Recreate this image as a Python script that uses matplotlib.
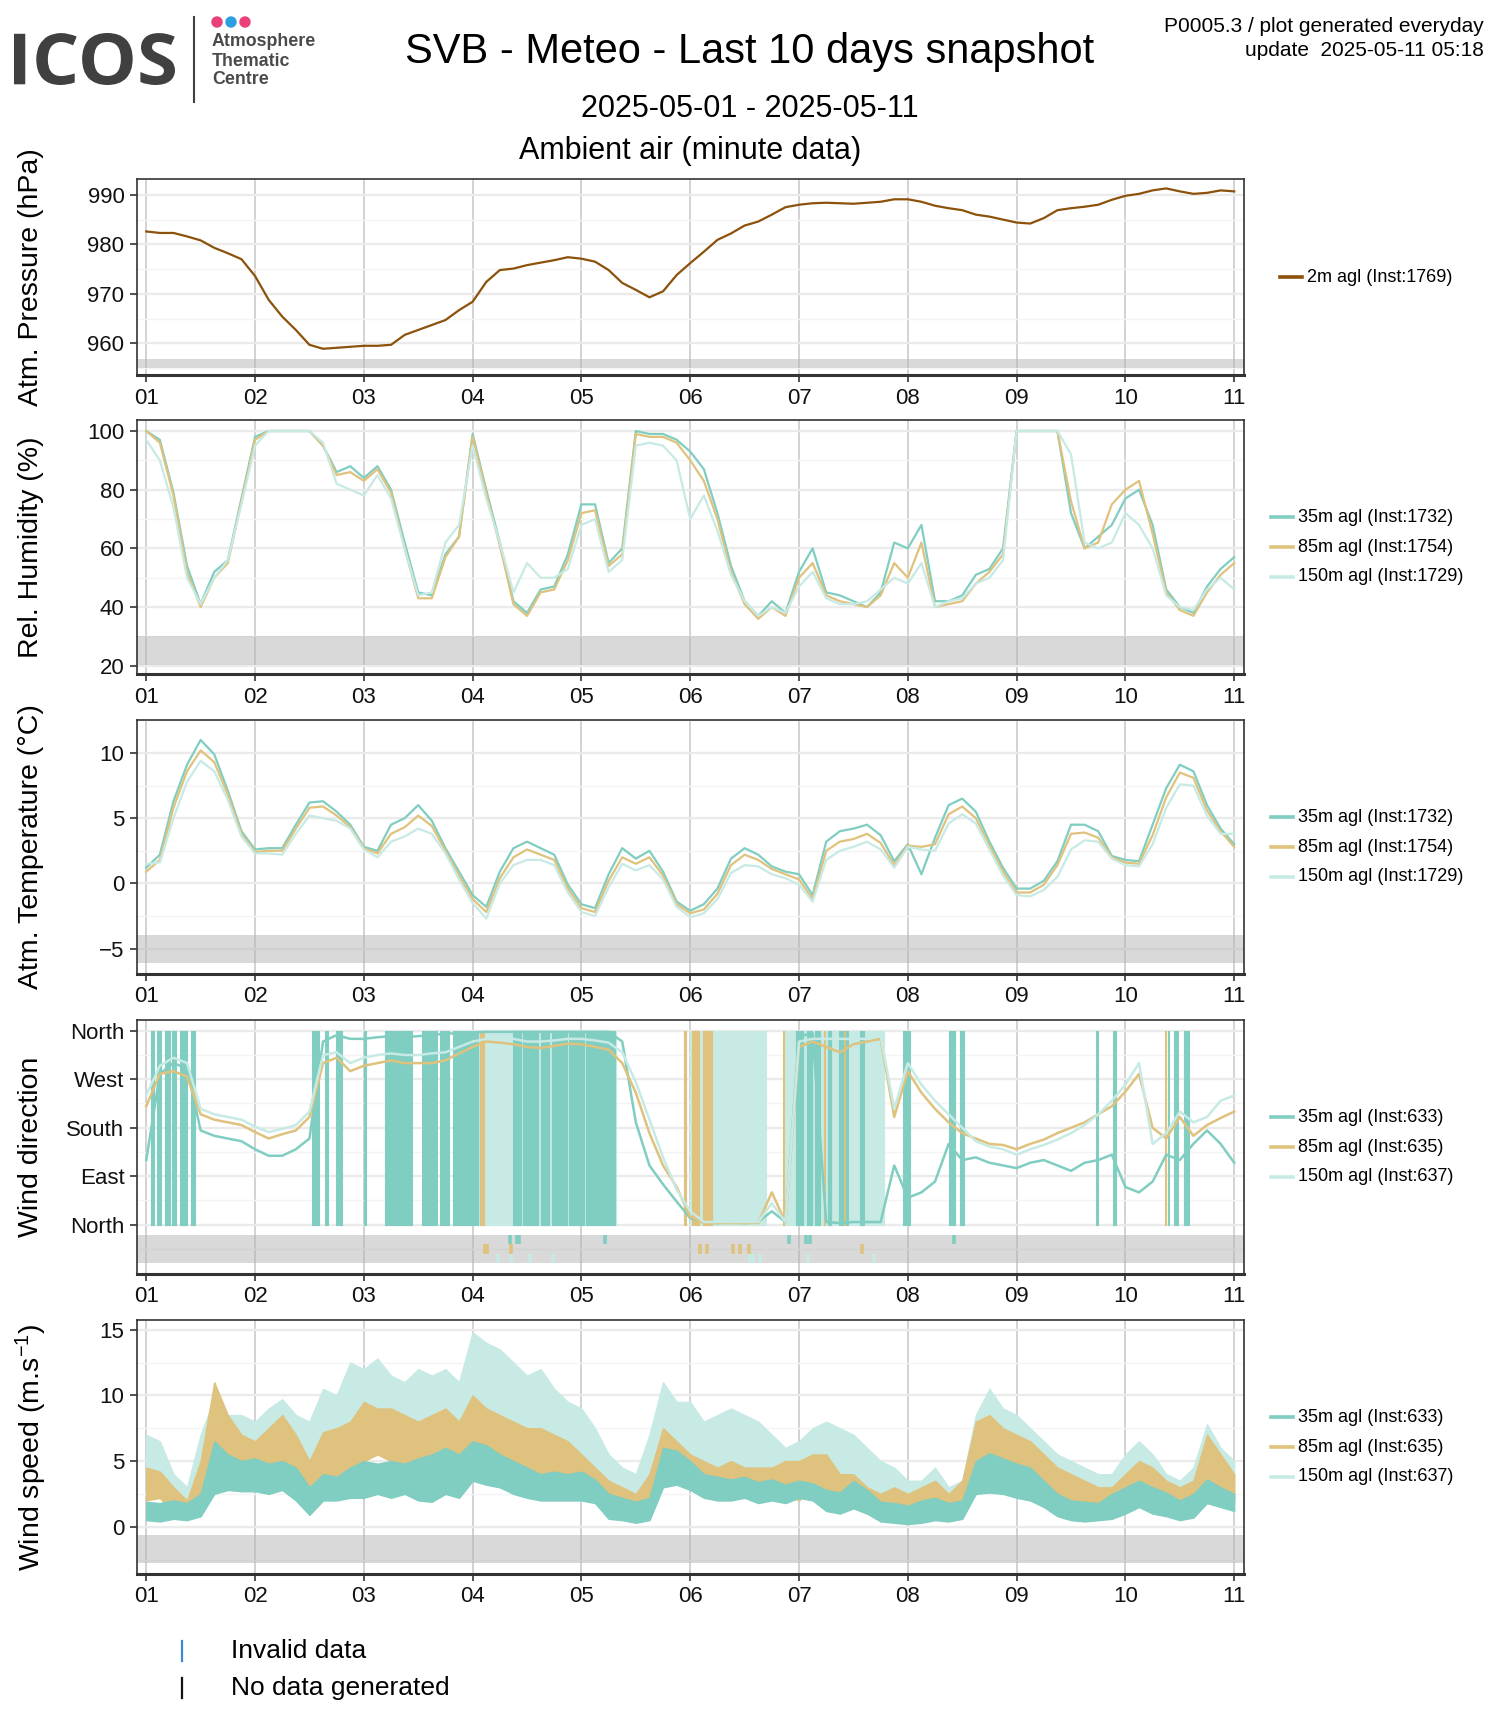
import numpy as np
import matplotlib.pyplot as plt
from matplotlib.lines import Line2D
from matplotlib.patches import Circle, PathPatch
from matplotlib.textpath import TextPath
from matplotlib.font_manager import FontProperties
from matplotlib.transforms import Affine2D

plt.rcParams.update({
    "font.family": ["Liberation Sans", "DejaVu Sans"],
    "mathtext.fontset": "custom",
    "mathtext.rm": "Liberation Sans",
    "mathtext.it": "Liberation Sans",
    "font.size": 16,
})

W, H, DPI = 1500, 1725, 100

# colours
C35, C85, C150 = "#80CDC1", "#DFC27D", "#C7EAE5"
CPRES = "#8C510A"

DAY_LABELS = ["01", "02", "03", "04", "05", "06", "07", "08", "09", "10", "11"]
STEP = 0.125  # 3-hourly samples, days since 2025-05-01

# ---- data (one row = one day, 8 samples) ----
pressure = [
    982.6, 982.3, 982.3, 981.6, 980.8, 979.3, 978.2, 977.0,
    973.6, 968.8, 965.4, 962.7, 959.7, 958.9, 959.1, 959.3,
    959.5, 959.5, 959.7, 961.7, 962.7, 963.7, 964.7, 966.7,
    968.4, 972.4, 974.8, 975.1, 975.8, 976.3, 976.8, 977.4,
    977.1, 976.5, 974.8, 972.2, 970.8, 969.3, 970.5, 973.8,
    976.2, 978.5, 980.9, 982.2, 983.8, 984.6, 986.0, 987.5,
    988.0, 988.3, 988.4, 988.3, 988.2, 988.4, 988.6, 989.1,
    989.1, 988.6, 987.8, 987.3, 986.9, 986.0, 985.6, 985.0,
    984.4, 984.2, 985.3, 986.9, 987.3, 987.6, 988.0, 989.0,
    989.8, 990.2, 990.9, 991.3, 990.7, 990.2, 990.4, 990.9,
    990.7]

rh_35 = [
    100, 97, 79, 54, 41, 52, 56, 77,
    98, 100, 100, 100, 100, 95, 86, 88,
    84, 88, 80, 62, 45, 44, 58, 64,
    99, 80, 62, 42, 38, 46, 47, 58,
    75, 75, 55, 60, 100, 99, 99, 97,
    93, 87, 72, 54, 42, 37, 42, 38,
    52, 60, 45, 44, 42, 40, 45, 62,
    60, 68, 42, 42, 44, 51, 53, 60,
    100, 100, 100, 100, 72, 60, 64, 68,
    77, 80, 68, 46, 40, 38, 47, 53,
    57]
rh_85 = [
    100, 96, 78, 52, 40, 50, 55, 76,
    97, 100, 100, 100, 100, 95, 85, 86,
    83, 87, 79, 60, 43, 43, 57, 64,
    98, 79, 61, 41, 37, 45, 46, 56,
    72, 73, 54, 58, 99, 98, 98, 96,
    90, 83, 70, 52, 41, 36, 40, 37,
    50, 55, 44, 42, 41, 40, 44, 55,
    50, 62, 40, 41, 42, 48, 52, 58,
    100, 100, 100, 100, 76, 60, 62, 75,
    80, 83, 65, 45, 39, 37, 45, 51,
    55]
rh_150 = [
    97, 90, 74, 50, 41, 50, 56, 75,
    95, 100, 100, 100, 100, 96, 82, 80,
    78, 85, 77, 60, 44, 45, 62, 68,
    95, 77, 62, 45, 55, 50, 50, 53,
    68, 70, 52, 56, 95, 96, 95, 90,
    70, 78, 66, 51, 42, 37, 40, 38,
    47, 52, 43, 41, 41, 42, 46, 50,
    48, 55, 40, 42, 43, 48, 50, 56,
    100, 100, 100, 100, 92, 62, 60, 62,
    72, 68, 60, 44, 40, 39, 46, 50,
    46]

temp_35 = [
    1.2, 2.2, 6.3, 9.1, 11.0, 9.9, 7.1, 4.0,
    2.6, 2.7, 2.7, 4.5, 6.2, 6.3, 5.5, 4.5,
    2.8, 2.5, 4.5, 5.0, 6.0, 4.8, 2.7, 0.9,
    -0.9, -1.8, 0.9, 2.7, 3.2, 2.7, 2.2, -0.1,
    -1.6, -1.9, 0.7, 2.7, 1.9, 2.5, 0.9, -1.4,
    -2.1, -1.6, -0.4, 1.9, 2.7, 2.2, 1.3, 0.9,
    0.7, -0.9, 3.2, 4.0, 4.2, 4.5, 3.7, 1.7,
    3.0, 0.7, 3.5, 6.0, 6.5, 5.5, 3.2, 1.2,
    -0.4, -0.4, 0.2, 1.7, 4.5, 4.5, 4.0, 2.1,
    1.8, 1.7, 4.5, 7.3, 9.1, 8.6, 6.0, 4.2,
    3.0]
temp_85 = [
    0.9, 1.8, 5.8, 8.6, 10.2, 9.3, 6.8, 3.8,
    2.4, 2.5, 2.5, 4.2, 5.8, 5.9, 5.2, 4.3,
    2.7, 2.3, 3.8, 4.3, 5.2, 4.4, 2.5, 0.6,
    -1.2, -2.2, 0.4, 2.0, 2.6, 2.2, 1.8, -0.4,
    -1.9, -2.2, 0.2, 2.0, 1.5, 2.0, 0.6, -1.6,
    -2.3, -2.0, -0.8, 1.4, 2.2, 1.8, 1.1, 0.7,
    0.3, -1.2, 2.5, 3.2, 3.4, 3.8, 3.1, 1.4,
    2.9, 2.8, 3.0, 5.3, 5.9, 5.0, 2.9, 0.9,
    -0.7, -0.7, -0.1, 1.4, 3.8, 3.9, 3.5, 2.0,
    1.6, 1.5, 3.7, 6.6, 8.5, 8.1, 5.6, 4.0,
    2.8]
temp_150 = [
    1.5, 1.6, 5.0, 7.8, 9.4, 8.6, 6.4, 3.6,
    2.3, 2.3, 2.2, 3.8, 5.2, 5.0, 4.8, 4.2,
    2.6, 2.0, 3.2, 3.6, 4.2, 3.8, 2.3, 0.3,
    -1.5, -2.7, 0.0, 1.4, 1.8, 1.8, 1.4, -0.7,
    -2.2, -2.5, -0.3, 1.5, 1.0, 1.4, 0.3, -1.8,
    -2.6, -2.3, -1.2, 0.8, 1.4, 1.3, 0.7, 0.4,
    -0.1, -1.4, 1.8, 2.5, 2.8, 3.2, 2.6, 1.2,
    2.8, 2.6, 2.5, 4.6, 5.3, 4.6, 2.6, 0.6,
    -0.9, -1.0, -0.5, 0.5, 2.6, 3.3, 3.2, 1.9,
    1.4, 1.3, 3.0, 5.8, 7.6, 7.5, 5.2, 3.8,
    3.8]

# wind direction (deg), slowly varying part
wd_35 = [
    120, 280, 300, 290, 175, 165, 160, 155,
    140, 128, 128, 140, 160, 340, 352, 345,
    345, 348, 350, 348, 350, 352, 355, 355,
    357, 358, 358, 358, 358, 358, 358, 358,
    358, 358, 358, 340, 190, 110, 75, 43,
    12, 5, 3, 5, 3, 5, 25, 5,
    350, 355, 5, 3, 5, 5, 5, 110,
    50, 60, 80, 150, 120, 125, 115, 110,
    105, 115, 120, 110, 100, 115, 120, 130,
    70, 60, 80, 130, 120, 150, 175, 150,
    115]
wd_85 = [
    220, 280, 285, 275, 205, 195, 190, 185,
    172, 160, 168, 175, 200, 300, 310, 285,
    295, 300, 305, 300, 300, 300, 305, 318,
    330, 340, 338, 335, 330, 328, 332, 336,
    335, 330, 325, 300, 245, 170, 110, 70,
    15, 3, 3, 3, 3, 3, 60, 5,
    330, 340, 330, 320, 335, 340, 345, 200,
    285, 245, 215, 190, 170, 160, 150, 148,
    140, 150, 158, 170, 180, 190, 205, 220,
    247, 280, 180, 160, 200, 165, 185, 198,
    210]
wd_150 = [
    240, 295, 310, 300, 215, 205, 200, 195,
    182, 172, 178, 185, 210, 315, 320, 300,
    310, 315, 318, 315, 315, 318, 320, 330,
    340, 345, 345, 345, 340, 340, 342, 345,
    345, 342, 338, 320, 265, 195, 125, 65,
    25, 5, 5, 5, 5, 5, 40, 5,
    340, 345, 345, 345, 345, 345, 350, 215,
    300, 260, 230, 205, 180, 155, 145, 140,
    130, 140, 148, 158, 170, 185, 205, 230,
    260, 300, 150, 170, 210, 190, 200, 230,
    240]

# spans (days) where the direction flips back and forth across north
wrap_35 = [(0.04, 0.07), (0.10, 0.14), (0.17, 0.22), (0.24, 0.27), (0.31, 0.37), (0.41, 0.45),
           (1.52, 1.59), (1.64, 1.67), (1.74, 1.80), (2.00, 2.02), (2.19, 2.44), (2.53, 2.67),
           (2.70, 2.78), (2.82, 2.85), (2.86, 3.05), (3.37, 3.44), (3.46, 3.60), (3.63, 3.70),
           (3.73, 3.87), (3.89, 4.02), (4.04, 4.31), (5.97, 6.04), (6.07, 6.12), (6.15, 6.19),
           (6.27, 6.29), (6.37, 6.40), (6.43, 6.45), (6.56, 6.60), (6.96, 7.02), (7.38, 7.43),
           (7.48, 7.52), (8.73, 8.75), (8.89, 8.91), (9.39, 9.40), (9.45, 9.48), (9.54, 9.58)]
wrap_85 = [(3.07, 3.10), (4.94, 4.96), (5.02, 5.08), (5.12, 5.20), (5.85, 5.86), (6.23, 6.24),
           (6.28, 6.29), (6.40, 6.43), (9.36, 9.37)]
wrap_150 = [(3.05, 4.32), (5.00, 5.70), (5.86, 6.78)]

# invalid-data flags (days)
flag_35 = [3.34, 3.41, 3.43, 4.22, 5.91, 6.06, 6.10, 7.42]
flag_85 = [3.11, 3.13, 3.35, 5.09, 5.15, 5.39, 5.46, 5.54, 6.58]
flag_150 = [3.23, 3.35, 3.53, 3.74, 5.55, 5.58, 5.64, 6.08, 6.69]

# wind speed (m/s): low / high edge of the minute-data spread
ws35_lo = [
    0.5, 0.4, 0.6, 0.5, 0.8, 2.5, 2.8, 2.7,
    2.7, 2.5, 2.8, 2.0, 0.9, 2.0, 2.0, 2.2,
    2.2, 2.5, 2.2, 2.5, 2.0, 1.9, 2.5, 2.2,
    3.5, 3.2, 3.0, 2.5, 2.2, 2.0, 2.0, 2.0,
    2.0, 1.8, 0.6, 0.5, 0.3, 0.5, 3.0, 3.2,
    2.8, 2.2, 2.0, 2.0, 2.2, 1.8, 2.0, 1.8,
    2.2, 2.0, 1.2, 1.0, 1.4, 1.0, 0.4, 0.3,
    0.2, 0.3, 0.5, 0.4, 0.6, 2.5, 2.6, 2.5,
    2.2, 2.0, 1.5, 0.8, 0.5, 0.4, 0.5, 0.6,
    1.0, 1.5, 1.0, 0.8, 0.5, 0.7, 1.8, 1.5,
    1.2]
ws35_hi = [
    1.9, 1.8, 2.0, 1.8, 2.5, 6.5, 5.5, 5.0,
    5.2, 4.8, 5.0, 4.5, 3.0, 4.0, 3.8, 4.5,
    5.0, 4.8, 5.0, 4.8, 5.2, 5.5, 6.0, 5.5,
    6.5, 6.2, 5.5, 5.0, 4.5, 4.0, 4.2, 4.0,
    4.2, 3.6, 2.5, 2.2, 1.9, 2.2, 6.0, 5.8,
    5.0, 4.0, 3.8, 3.6, 3.8, 3.4, 3.6, 3.2,
    3.5, 3.3, 2.8, 2.6, 3.5, 2.8, 1.9, 1.8,
    1.6, 2.0, 2.2, 1.8, 2.0, 5.0, 5.6, 5.2,
    4.8, 4.5, 3.5, 2.5, 2.0, 1.9, 1.8, 2.5,
    3.0, 3.5, 3.0, 2.6, 2.0, 2.5, 3.6, 3.0,
    2.5]
ws85_lo = [
    2.0, 2.2, 1.0, 0.7, 1.5, 4.0, 4.5, 3.8,
    3.5, 3.8, 4.0, 3.5, 2.0, 4.0, 3.8, 4.5,
    5.0, 5.5, 5.0, 4.5, 4.0, 4.5, 5.0, 4.5,
    6.0, 5.5, 4.8, 4.5, 4.0, 3.5, 3.0, 3.5,
    3.5, 2.8, 1.5, 1.0, 0.6, 1.5, 4.0, 3.5,
    3.0, 2.5, 2.5, 2.5, 2.5, 2.0, 2.5, 2.5,
    2.0, 3.0, 2.5, 1.5, 1.5, 1.0, 0.8, 1.0,
    0.6, 0.8, 1.2, 0.5, 1.5, 4.0, 4.2, 4.0,
    3.5, 3.0, 2.5, 2.0, 1.5, 1.2, 1.0, 1.0,
    1.5, 2.5, 2.0, 1.2, 1.0, 1.5, 3.0, 2.5,
    2.0]
ws85_hi = [
    4.5, 4.2, 3.0, 2.0, 5.0, 11.0, 8.5, 7.0,
    6.5, 7.5, 8.5, 7.0, 5.0, 7.2, 7.5, 8.0,
    9.5, 9.0, 9.0, 8.5, 8.0, 8.5, 9.0, 8.0,
    10.0, 9.0, 8.5, 8.0, 7.5, 7.5, 7.0, 6.5,
    5.5, 4.5, 3.5, 3.0, 2.5, 4.0, 7.5, 6.5,
    5.5, 5.0, 4.5, 5.0, 4.5, 4.5, 4.5, 5.0,
    5.0, 5.5, 5.5, 4.0, 4.0, 3.0, 2.5, 3.0,
    2.5, 3.0, 3.5, 2.5, 3.5, 8.0, 8.5, 7.5,
    7.0, 6.5, 5.5, 4.5, 4.0, 3.5, 3.0, 3.0,
    4.0, 5.0, 4.5, 3.5, 3.0, 3.5, 7.0, 5.5,
    4.0]
ws150_lo = [
    4.0, 3.0, 1.5, 1.0, 3.5, 5.5, 5.0, 4.5,
    4.5, 5.0, 5.5, 4.5, 3.5, 6.5, 6.5, 7.0,
    7.5, 7.5, 7.0, 6.5, 6.5, 6.0, 7.0, 6.5,
    7.5, 8.0, 7.0, 6.5, 6.0, 5.5, 5.5, 5.0,
    5.0, 4.0, 2.0, 1.5, 1.0, 2.5, 5.5, 5.0,
    4.5, 4.0, 3.5, 3.5, 3.5, 3.0, 3.5, 3.0,
    3.0, 3.5, 3.5, 3.0, 2.5, 2.0, 1.5, 1.5,
    1.0, 1.0, 1.5, 0.8, 1.2, 5.0, 5.5, 5.0,
    4.5, 4.0, 3.0, 2.5, 2.0, 1.5, 1.2, 1.5,
    2.0, 3.0, 2.5, 1.5, 1.0, 2.0, 4.0, 3.0,
    2.5]
ws150_hi = [
    7.0, 6.5, 4.0, 3.0, 7.0, 9.8, 8.5, 8.5,
    8.0, 9.0, 9.7, 8.5, 8.0, 10.5, 10.0, 12.5,
    12.0, 12.8, 11.5, 11.0, 12.0, 11.5, 12.0, 11.0,
    14.8, 14.0, 13.5, 12.5, 11.5, 12.0, 10.5, 9.5,
    9.0, 7.5, 5.5, 4.5, 4.0, 7.0, 11.0, 9.5,
    9.5, 8.0, 8.5, 9.0, 8.5, 8.0, 7.0, 6.0,
    6.5, 7.5, 8.0, 7.5, 7.0, 6.0, 5.0, 4.5,
    3.5, 3.5, 4.5, 3.0, 3.5, 8.5, 10.5, 9.0,
    8.5, 7.5, 6.5, 5.5, 5.0, 4.5, 4.0, 4.0,
    5.5, 6.5, 5.5, 4.0, 3.5, 4.5, 7.8, 6.0,
    5.0]

t = np.arange(len(pressure)) * STEP

LABELS_T = ["35m agl (Inst:1732)", "85m agl (Inst:1754)", "150m agl (Inst:1729)"]
LABELS_W = ["35m agl (Inst:633)", "85m agl (Inst:635)", "150m agl (Inst:637)"]


def fx(px):
    return px / W


def fy(py):
    return 1 - py / H


fig = plt.figure(figsize=(W / DPI, H / DPI), dpi=DPI)

LEFT, RIGHT = 137, 1244
PANELS = [(179, 375), (420, 674), (720, 974), (1020, 1274), (1320, 1574)]


def make_ax(top, bottom, ylim, majors, minors, band, yticklabels=None):
    ax = fig.add_axes([fx(LEFT), fy(bottom), (RIGHT - LEFT) / W, (bottom - top) / H])
    ax.set_xlim(-0.085, 10.09)
    ax.set_ylim(*ylim)
    ax.set_axisbelow(True)
    ax.set_xticks(range(11))
    ax.set_xticklabels(DAY_LABELS)
    ax.set_yticks(majors)
    if yticklabels is not None:
        ax.set_yticklabels(yticklabels)
    ax.set_yticks(minors, minor=True)
    ax.grid(axis="x", which="major", color="#C6C6C6", lw=1.1)
    ax.grid(axis="y", which="major", color="#EBEBEB", lw=1.7)
    ax.grid(axis="y", which="minor", color="#F4F4F4", lw=1.0)
    ax.tick_params(which="major", length=5, width=1.2, color="#333333",
                   labelsize=16, pad=4, labelcolor="#111111")
    ax.tick_params(which="minor", length=0)
    for s in ax.spines.values():
        s.set_color("#333333")
        s.set_linewidth(1.2)
    ax.spines["bottom"].set_linewidth(2.2)
    ax.axhspan(band[0], band[1], color="#B4B4B4", alpha=0.5, lw=0, zorder=1)
    return ax


def ylabel(top, bottom, text):
    fig.text(fx(31), fy((top + bottom) / 2), text, rotation=90,
             ha="center", va="center", fontsize=20.5)


def legend(rows, x_line, center):
    n = len(rows)
    for i, (lab, col) in enumerate(rows):
        yy = center + (i - (n - 1) / 2) * 29.7
        fig.add_artist(Line2D([fx(x_line), fx(x_line + 22)], [fy(yy), fy(yy)],
                              color=col, lw=2.6, transform=fig.transFigure))
        fig.text(fx(x_line + 27), fy(yy), lab, ha="left", va="center", fontsize=13)


# ---- panel 1: pressure ----
top, bot = PANELS[0]
ax1 = make_ax(top, bot, (953.6, 993.2), [960, 970, 980, 990],
              [955, 965, 975, 985], (955.1, 956.8))
ax1.plot(t, pressure, color=CPRES, lw=1.6, zorder=3)
ylabel(top, bot, "Atm. Pressure (hPa)")
legend([("2m agl (Inst:1769)", CPRES)], 1280, (top + bot) / 2)

# ---- panel 2: relative humidity ----
top, bot = PANELS[1]
ax2 = make_ax(top, bot, (17.2, 103.75), [20, 40, 60, 80, 100],
              [30, 50, 70, 90], (20.3, 30.1))
for y, c in ((rh_35, C35), (rh_85, C85), (rh_150, C150)):
    ax2.plot(t, y, color=c, lw=1.6, zorder=3)
ylabel(top, bot, "Rel. Humidity (%)")
legend(list(zip(LABELS_T, (C35, C85, C150))), 1271, (top + bot) / 2)

# ---- panel 3: temperature ----
top, bot = PANELS[2]
ax3 = make_ax(top, bot, (-6.95, 12.53), [-5, 0, 5, 10],
              [-2.5, 2.5, 7.5, 12.5], (-6.14, -3.94))
for y, c in ((temp_35, C35), (temp_85, C85), (temp_150, C150)):
    ax3.plot(t, y, color=c, lw=1.6, zorder=3)
ylabel(top, bot, "Atm. Temperature (°C)")
legend(list(zip(LABELS_T, (C35, C85, C150))), 1271, (top + bot) / 2)

# ---- panel 4: wind direction ----
top, bot = PANELS[3]
ax4 = make_ax(top, bot, (-91.5, 380), [0, 90, 180, 270, 360],
              [-45, 45, 135, 225, 315], (-71.1, -18.6),
              ["North", "East", "South", "West", "North"])
for spans, c, z in ((wrap_150, C150, 2.0), (wrap_85, C85, 2.1), (wrap_35, C35, 2.2)):
    for s, e in spans:
        ax4.fill_between([s, e], 0, 360, color=c, lw=0.8, edgecolor=c, zorder=z)
for y, c in ((wd_35, C35), (wd_85, C85), (wd_150, C150)):
    ax4.plot(t, y, color=c, lw=1.8, zorder=3)
for flags, c, (y0, y1) in ((flag_35, C35, (-36, -18.6)),
                           (flag_85, C85, (-53.5, -36)),
                           (flag_150, C150, (-71.1, -53.5))):
    ax4.vlines(flags, y0, y1, color=c, lw=2.6, zorder=3)
ylabel(top, bot, "Wind direction")
legend(list(zip(LABELS_W, (C35, C85, C150))), 1271, (top + bot) / 2)

# ---- panel 5: wind speed ----
top, bot = PANELS[4]
ax5 = make_ax(top, bot, (-3.6, 15.74), [0, 5, 10, 15],
              [-2.5, 2.5, 7.5, 12.5], (-2.8, -0.61))
for lo, hi, c in ((ws150_lo, ws150_hi, C150), (ws85_lo, ws85_hi, C85),
                  (ws35_lo, ws35_hi, C35)):
    ax5.fill_between(t, lo, hi, color=c, lw=1.0, edgecolor=c, zorder=3)
ylabel(top, bot, "Wind speed (m.s$^{-1}$)")
legend(list(zip(LABELS_W, (C35, C85, C150))), 1271, (top + bot) / 2)

# ---- bottom legend ----
for yy, col, lab in ((1651, "#3B8BD0", "Invalid data"), (1688, "#111111", "No data generated")):
    fig.add_artist(Line2D([fx(182), fx(182)], [fy(yy - 10), fy(yy + 10)],
                          color=col, lw=1.6, transform=fig.transFigure))
    fig.text(fx(231), fy(yy), lab, ha="left", va="center", fontsize=19)

# ---- header ----
fig.text(0.5, fy(52), "SVB - Meteo - Last 10 days snapshot", ha="center",
         va="center", fontsize=30)
fig.text(0.5, fy(109), "2025-05-01 - 2025-05-11", ha="center", va="center", fontsize=22)
fig.text(fx((LEFT + RIGHT) / 2), fy(151), "Ambient air (minute data)",
         ha="center", va="center", fontsize=22)
fig.text(fx(1484), fy(26), "P0005.3 / plot generated everyday", ha="right",
         va="center", fontsize=15)
fig.text(fx(1484), fy(50), "update  2025-05-11 05:18", ha="right",
         va="center", fontsize=15)

# logo: "ICOS" fitted into its box (pixel coords)
tp = TextPath((0, 0), "ICOS", size=100,
              prop=FontProperties(family=["Open Sans", "Liberation Sans"], weight="bold"))
bb = tp.get_extents()
logo_tr = (Affine2D().translate(-bb.x0, -bb.y0)
           .scale(161 / bb.width, 52 / bb.height).translate(14, H - 85))
fig.add_artist(PathPatch(tp, transform=logo_tr, color="#404040", lw=0))
fig.add_artist(Line2D([fx(194), fx(194)], [fy(17), fy(102)], color="#404040",
                      lw=1.5, transform=fig.transFigure))
for cx, col in ((217, "#E8407A"), (231, "#2B9FE0"), (245, "#E8407A")):
    fig.add_artist(Circle((cx, H - 22), 5, color=col, transform=Affine2D()))
for yy, txt in ((42, "Atmosphere"), (61, "Thematic"), (79, "Centre")):
    fig.text(fx(212), fy(yy), txt, ha="left", va="center", fontsize=12.8,
             fontweight="bold", color="#4A4A4A")

fig.savefig("out.png", dpi=DPI)
